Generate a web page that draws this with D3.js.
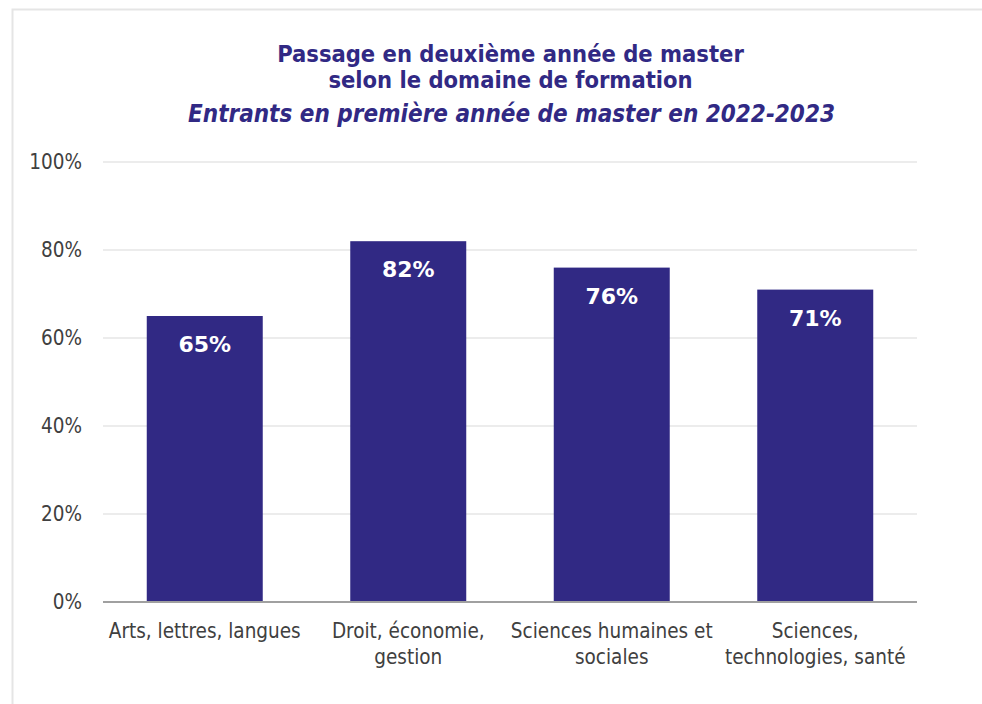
<!DOCTYPE html>
<html><head><meta charset="utf-8">
<script src="https://cdn.jsdelivr.net/npm/d3@7"></script>
<style>
html,body{margin:0;padding:0;background:#fff;}
svg{display:block;}
</style></head>
<body>
<svg id="chart" width="982" height="704"></svg>
<script>
const categories = [
  ["Arts, lettres, langues"],
  ["Droit, économie,", "gestion"],
  ["Sciences humaines et", "sociales"],
  ["Sciences,", "technologies, santé"]
];
const values = [65, 82, 76, 71];
const yTicks = [0, 20, 40, 60, 80, 100];
const titleLines = ["Passage en deuxième année de master", "selon le domaine de formation"];
const subtitle = "Entrants en première année de master en 2022-2023";

const W = 982, H = 704;
const svg = d3.select("#chart");
const font = "'DejaVu Sans Condensed', 'DejaVu Sans', sans-serif";
const fontWide = "'DejaVu Sans', sans-serif";
const navy = "#312984";

// frame
svg.append("rect").attr("x", 12.5).attr("y", 9.5).attr("width", 990).attr("height", 720)
  .attr("fill", "#fff").attr("stroke", "#e5e5e5").attr("stroke-width", 2);

const margin = {left: 103, right: 65, top: 162, bottom: 102};
const x = d3.scaleBand().domain(d3.range(categories.length))
  .range([margin.left, W - margin.right]).paddingInner(0.43).paddingOuter(0.215);
const y = d3.scaleLinear().domain([0, 100]).range([H - margin.bottom, margin.top]);

// gridlines
svg.append("g").selectAll("line").data(yTicks.filter(d => d > 0)).join("line")
  .attr("x1", margin.left).attr("x2", W - margin.right)
  .attr("y1", d => y(d)).attr("y2", d => y(d))
  .attr("stroke", "#e6e6e6").attr("stroke-width", 1.5);

// y axis labels
const yAxis = d3.axisLeft(y).tickValues(yTicks).tickFormat(d => d + "%").tickSize(0).tickPadding(21);
const gy = svg.append("g").attr("transform", `translate(${margin.left},0)`).call(yAxis);
gy.select(".domain").remove();
gy.selectAll("text").attr("font-family", font).attr("font-size", 20.5).attr("fill", "#404040");

// bars
svg.append("g").selectAll("rect").data(values).join("rect")
  .attr("x", (d, i) => x(i)).attr("width", x.bandwidth())
  .attr("y", d => y(d)).attr("height", d => y(0) - y(d))
  .attr("fill", navy);

// value labels
svg.append("g").selectAll("text").data(values).join("text")
  .attr("x", (d, i) => x(i) + x.bandwidth() / 2)
  .attr("y", d => y(d) + 36)
  .attr("text-anchor", "middle").attr("font-family", fontWide)
  .attr("font-weight", "bold").attr("font-size", 22).attr("fill", "#fff")
  .text(d => d + "%");

// x axis line
svg.append("line").attr("x1", margin.left).attr("x2", W - margin.right)
  .attr("y1", y(0)).attr("y2", y(0)).attr("stroke", "#a0a0a0").attr("stroke-width", 2);

// category labels
const cl = svg.append("g").selectAll("text").data(categories).join("text")
  .attr("x", (d, i) => x(i) + x.bandwidth() / 2)
  .attr("y", 638).attr("text-anchor", "middle")
  .attr("font-family", font).attr("font-size", 20.5).attr("fill", "#404040");
cl.selectAll("tspan").data(d => d).join("tspan")
  .attr("x", function() { return this.parentNode.getAttribute("x"); })
  .attr("dy", (d, i) => i === 0 ? 0 : 25.5).text(d => d);

// titles
const tx = (277 + 744) / 2;
svg.append("g").selectAll("text").data(titleLines).join("text")
  .attr("x", tx).attr("y", (d, i) => 61.5 + i * 26.5)
  .attr("text-anchor", "middle").attr("font-family", font)
  .attr("font-weight", "bold").attr("font-size", 23.5).attr("fill", navy).text(d => d);
svg.append("text").attr("x", (190 + 833) / 2).attr("y", 121.5).attr("text-anchor", "middle")
  .attr("font-family", font).attr("font-weight", "bold").attr("font-style", "italic")
  .attr("font-size", 24).attr("fill", navy).text(subtitle);
</script>
</body></html>
